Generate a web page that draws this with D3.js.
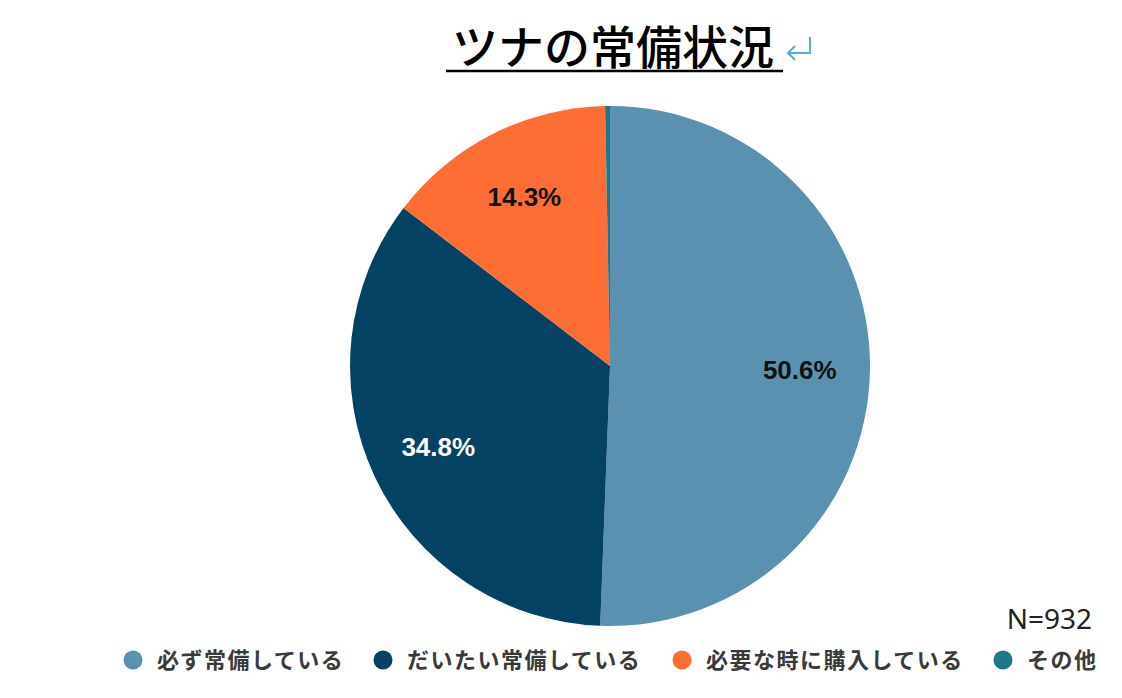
<!DOCTYPE html>
<html>
<head>
<meta charset="utf-8">
<script src="https://cdn.jsdelivr.net/npm/d3@7"></script>
<style>
  html, body { margin: 0; padding: 0; background: #fff; }
  #chart svg { display: block; }
</style>
</head>
<body>
<div id="chart"></div>
<script>
const categories = ["必ず常備している", "だいたい常備している", "必要な時に購入している", "その他"];
const values = [50.6, 34.8, 14.3, 0.3];
const colors = ["#5a91b0", "#034262", "#fe6d34", "#1f7686"];
const labelColors = ["#111", "#fff", "#111", "none"];
const title = "ツナの常備状況";
const note = "N=932";

const width = 1122,
  height = 698;
const cx = 610,
  cy = 366,
  radius = 260;

const svg = d3
  .select("#chart")
  .append("svg")
  .attr("width", width)
  .attr("height", height);

// title with underline and the little return mark
svg
  .append("text")
  .attr("x", 452)
  .attr("y", 64)
  .attr("font-family", "'Noto Sans CJK JP'")
  .attr("font-weight", 500)
  .attr("font-size", 46)
  .attr("fill", "#000")
  .text(title);

svg
  .append("line")
  .attr("x1", 446)
  .attr("x2", 783)
  .attr("y1", 71)
  .attr("y2", 71)
  .attr("stroke", "#000")
  .attr("stroke-width", 2.5);

svg
  .append("path")
  .attr("d", "M810,37 V53 H788 M795,46 L788,53 L795,60")
  .attr("fill", "none")
  .attr("stroke", "#5aa6ea")
  .attr("stroke-width", 2);

const pie = d3
  .pie()
  .sort(null)
  .value((d) => d);

const arcs = pie(values);
const arc = d3.arc().innerRadius(0).outerRadius(radius);
const labelArc = d3
  .arc()
  .innerRadius(radius * 0.73)
  .outerRadius(radius * 0.73);

const g = svg.append("g").attr("transform", `translate(${cx},${cy})`);

g.selectAll("path")
  .data(arcs)
  .join("path")
  .attr("d", arc)
  .attr("fill", (d, i) => colors[i]);

g.selectAll("text")
  .data(arcs.filter((d) => d.data >= 5))
  .join("text")
  .attr("transform", (d) => {
    const c = labelArc.centroid(d);
    return `translate(${c[0]},${c[1] + 9})`;
  })
  .attr("text-anchor", "middle")
  .attr("font-family", "'Liberation Sans', Arial, sans-serif")
  .attr("font-weight", "bold")
  .attr("font-size", 26)
  .attr("fill", (d) => labelColors[d.index])
  .text((d) => d.data.toFixed(1) + "%");

svg
  .append("text")
  .attr("x", 1092)
  .attr("y", 629)
  .attr("text-anchor", "end")
  .attr("font-family", "'Noto Sans', sans-serif")
  .attr("font-size", 28)
  .attr("fill", "#222")
  .text(note);

// legend
const legendX = [133, 383, 682, 1003];
const legend = svg
  .selectAll(".legend")
  .data(categories)
  .join("g")
  .attr("class", "legend")
  .attr("transform", (d, i) => `translate(${legendX[i]},660)`);

legend
  .append("circle")
  .attr("r", 9.5)
  .attr("fill", (d, i) => colors[i]);

legend
  .append("text")
  .attr("x", 24)
  .attr("y", 8)
  .attr("font-family", "'Noto Sans CJK JP'")
  .attr("font-weight", "bold")
  .attr("font-size", 22)
  .attr("letter-spacing", 1.5)
  .attr("fill", "#3a3a3a")
  .text((d) => d);
</script>
</body>
</html>
